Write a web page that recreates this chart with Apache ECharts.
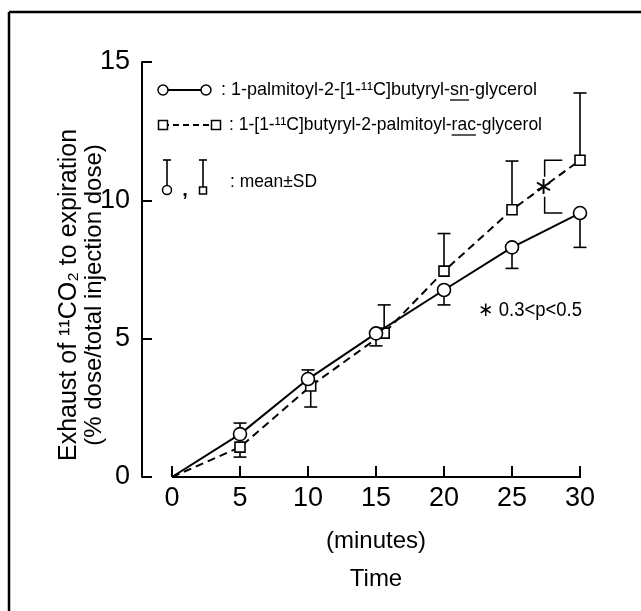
<!DOCTYPE html>
<html><head><meta charset="utf-8">
<script src="https://cdn.jsdelivr.net/npm/echarts@6/dist/echarts.min.js"></script>
<style>html,body{margin:0;padding:0;background:#fff}#c{width:641px;height:611px}</style>
</head><body><div id="c"></div>
<script>
// ---- data ----
const circleTime = [0, 5, 10, 15, 20, 25, 30];
const circleMean = [0, 1.55, 3.54, 5.19, 6.76, 8.30, 9.54];
const circleSD   = [0, 0.40, 0.33, 0.45, 0.54, 0.76, 1.24];
const circleBarDir = [0, 1, 1, -1, -1, -1, -1];   // which side of the mean the SD bar is drawn

const squareTime = [0, 5, 10.2, 15.6, 20, 25, 30];
const squareMean = [0, 1.08, 3.29, 5.20, 7.44, 9.66, 11.45];
const squareSD   = [0, 0.36, 0.76, 1.02, 1.36, 1.76, 2.43];
const squareBarDir = [0, -1, -1, 1, 1, 1, 1];

const xAxisMin = 0, xAxisMax = 30, xAxisStep = 5, xAxisLineEnd = 32.8;
const yAxisMin = 0, yAxisMax = 15, yAxisStep = 5;

const legendText1 = ': 1-palmitoyl-2-[1-\u00b9\u00b9C]butyryl-';
const legendText1u = 'sn';
const legendText1b = '-glycerol';
const legendText2 = ': 1-[1-\u00b9\u00b9C]butyryl-2-palmitoyl-';
const legendText2u = 'rac';
const legendText2b = '-glycerol';
const legendText3 = ': mean\u00b1SD';
const sigText = '\u2217 0.3<p<0.5';
const yTitle1 = 'Exhaust of \u00b9\u00b9CO\u2082 to expiration';
const yTitle2 = '(% dose/total injection dose)';
const xTitle = '(minutes)\nTime';

// ---- chart ----
const SANS = "'Liberation Sans',Arial,sans-serif";

function pts(t, m) { return t.map((x, i) => i === 0 ? { value: [x, m[i]], symbol: 'none' } : [x, m[i]]); }
function bars(t, m, sd, dir) {
  const out = [];
  t.forEach((x, i) => { if (sd[i] > 0) out.push([x, m[i], m[i] + dir[i] * sd[i]]); });
  return out;
}
function barRender(params, api) {
  const a = api.coord([api.value(0), api.value(1)]);
  const b = api.coord([api.value(0), api.value(2)]);
  const st = { stroke: '#000', lineWidth: 1.6 };
  return { type: 'group', children: [
    { type: 'line', shape: { x1: a[0], y1: a[1], x2: b[0], y2: b[1] }, style: st },
    { type: 'line', shape: { x1: b[0] - 6.5, y1: b[1], x2: b[0] + 6.5, y2: b[1] }, style: st }
  ]};
}

const chart = echarts.init(document.getElementById('c'), null, { renderer: 'canvas' });
const option = {
  animation: false,
  backgroundColor: '#fff',
  grid: { left: 172, right: 61, top: 62, bottom: 134, containLabel: false },
  xAxis: {
    type: 'value', min: xAxisMin, max: xAxisMax, interval: xAxisStep,
    axisLine: { show: false, onZero: false },
    axisTick: { show: true, inside: true, length: 11, lineStyle: { color: '#000', width: 2 } },
    axisLabel: { color: '#000', fontSize: 27, fontFamily: SANS, margin: 8 },
    splitLine: { show: false },
    name: xTitle, nameLocation: 'middle', nameGap: 45,
    nameTextStyle: { color: '#000', fontSize: 24, fontFamily: SANS, lineHeight: 38 }
  },
  yAxis: {
    type: 'value', min: yAxisMin, max: yAxisMax, interval: yAxisStep, offset: 30,
    axisLine: { show: true, onZero: false, lineStyle: { color: '#000', width: 2 } },
    axisTick: { show: true, inside: true, length: 10, lineStyle: { color: '#000', width: 2 } },
    axisLabel: { color: '#000', fontSize: 27, fontFamily: SANS, margin: 12 },
    splitLine: { show: false }
  },
  series: [
    { type: 'line', data: [[xAxisMin, 0], [xAxisLineEnd, 0]], symbol: 'none', clip: false, silent: true,
      lineStyle: { color: '#000', width: 2 }, z: 1 },
    { type: 'custom', renderItem: barRender, data: bars(circleTime, circleMean, circleSD, circleBarDir), z: 2, clip: false },
    { type: 'custom', renderItem: barRender, data: bars(squareTime, squareMean, squareSD, squareBarDir), z: 2, clip: false },
    { type: 'line', name: 'circle', data: pts(circleTime, circleMean), symbol: 'circle', symbolSize: 13,
      lineStyle: { color: '#000', width: 2 }, itemStyle: { color: '#fff', borderColor: '#000', borderWidth: 1.6 }, z: 4, clip: false },
    { type: 'line', name: 'square', data: pts(squareTime, squareMean), symbol: 'rect', symbolSize: 10,
      lineStyle: { color: '#000', width: 2, type: [8, 5] }, itemStyle: { color: '#fff', borderColor: '#000', borderWidth: 1.6 }, z: 3, clip: false }
  ]
};
chart.setOption(option);

// ---- annotations ----
const ctx = document.createElement('canvas').getContext('2d');
function tw(txt, font) { ctx.font = font; return ctx.measureText(txt).width; }
const LF = '19px ' + SANS;

const g = [];
const blk = { stroke: '#000', lineWidth: 1.6 };
function txt(x, y, text, font, align, valign, rot, sx) {
  return { type: 'text', x: x, y: y, rotation: rot || 0, scaleX: sx || 1, z: 10,
    style: { text: text, font: font, fill: '#000', align: align || 'left', textAlign: align || 'left',
             verticalAlign: valign || 'middle', textVerticalAlign: valign || 'middle' } };
}
// condensed text: squeeze to the width measured on the reference
function narrowText(x, y, text, font, width) {
  const s = width / tw(text, font);
  g.push(txt(x, y, text, font, 'left', 'middle', 0, s));
  return s;
}
// frame
g.push({ type: 'line', shape: { x1: 9, y1: 12, x2: 641, y2: 12 }, style: { stroke: '#000', lineWidth: 2.5 } });
g.push({ type: 'line', shape: { x1: 9, y1: 12, x2: 9, y2: 611 }, style: { stroke: '#000', lineWidth: 2.5 } });
// y title
g.push(txt(69, 295, yTitle1, '25px ' + SANS, 'center', 'middle', Math.PI / 2));
g.push(txt(94, 295, yTitle2, '24px ' + SANS, 'center', 'middle', Math.PI / 2));
// legend row 1
g.push({ type: 'line', shape: { x1: 163, y1: 90, x2: 206, y2: 90 }, style: { stroke: '#000', lineWidth: 2 } });
g.push({ type: 'circle', shape: { cx: 163, cy: 90, r: 5 }, style: { fill: '#fff', stroke: '#000', lineWidth: 1.5 } });
g.push({ type: 'circle', shape: { cx: 206, cy: 90, r: 5 }, style: { fill: '#fff', stroke: '#000', lineWidth: 1.5 } });
function legendLine(x, y, a, u, b, width) {
  const s = narrowText(x, y, a + u + b, LF, width);
  const x0 = x + tw(a, LF) * s, x1 = x0 + tw(u, LF) * s;
  g.push({ type: 'line', shape: { x1: x0, y1: y + 10, x2: x1, y2: y + 10 }, style: { stroke: '#000', lineWidth: 1.3 } });
}
legendLine(221, 90, legendText1, legendText1u, legendText1b, 316);
// legend row 2
g.push({ type: 'line', shape: { x1: 163, y1: 125, x2: 216, y2: 125 }, style: { stroke: '#000', lineWidth: 2, lineDash: [6, 4] } });
g.push({ type: 'rect', shape: { x: 158.5, y: 120.5, width: 9, height: 9 }, style: { fill: '#fff', stroke: '#000', lineWidth: 1.5 } });
g.push({ type: 'rect', shape: { x: 211.5, y: 120.5, width: 9, height: 9 }, style: { fill: '#fff', stroke: '#000', lineWidth: 1.5 } });
legendLine(229, 125, legendText2, legendText2u, legendText2b, 313);
// legend row 3
g.push({ type: 'line', shape: { x1: 167, y1: 160, x2: 167, y2: 186 }, style: blk });
g.push({ type: 'line', shape: { x1: 163, y1: 160, x2: 171, y2: 160 }, style: blk });
g.push({ type: 'circle', shape: { cx: 167, cy: 190, r: 4.5 }, style: { fill: '#fff', stroke: '#000', lineWidth: 1.5 } });
g.push(txt(185, 190, ',', 'bold 20px ' + SANS, 'center'));
g.push({ type: 'line', shape: { x1: 203, y1: 160, x2: 203, y2: 187 }, style: blk });
g.push({ type: 'line', shape: { x1: 199, y1: 160, x2: 207, y2: 160 }, style: blk });
g.push({ type: 'rect', shape: { x: 199.5, y: 187, width: 7, height: 7 }, style: { fill: '#fff', stroke: '#000', lineWidth: 1.5 } });
narrowText(230, 182, legendText3, LF, 87);
// significance text
narrowText(478, 310, sigText, '20px ' + SANS, 104);
// bracket between the two 30-min means
const pTop = chart.convertToPixel({ gridIndex: 0 }, [27.4, squareMean[6]]);
const pBot = chart.convertToPixel({ gridIndex: 0 }, [27.4, circleMean[6]]);
const pR = chart.convertToPixel({ gridIndex: 0 }, [28.7, 0]);
const bx = pTop[0], rx = pR[0], mid = (pTop[1] + pBot[1]) / 2;
g.push({ type: 'polyline', shape: { points: [[rx, pTop[1]], [bx, pTop[1]], [bx, mid - 10]] }, style: { stroke: '#000', lineWidth: 1.5, fill: null } });
g.push({ type: 'polyline', shape: { points: [[bx, mid + 10], [bx, pBot[1]], [rx, pBot[1]]] }, style: { stroke: '#000', lineWidth: 1.5, fill: null } });
g.push(txt(bx - 1, mid + 1, '\u2217', '24px DejaVu Sans', 'center', 'middle'));

chart.setOption({ graphic: { elements: g } });
</script></body></html>
